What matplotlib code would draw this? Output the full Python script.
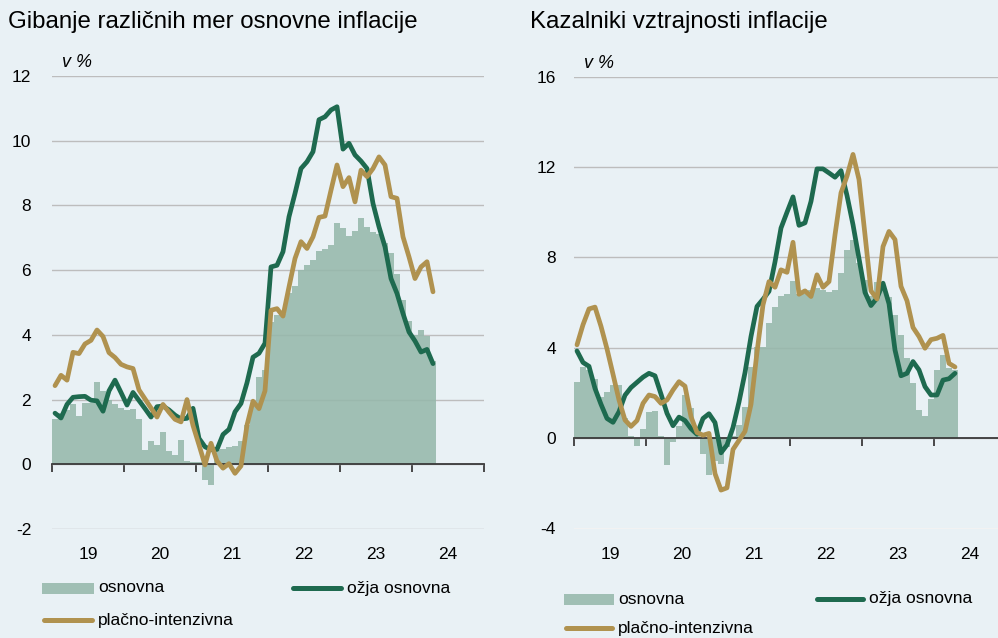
import numpy as np
import matplotlib
matplotlib.use("Agg")
import matplotlib.pyplot as plt
from matplotlib.patches import Rectangle
from matplotlib.lines import Line2D

# mesečni podatki, jan 2019 - apr 2024
years = [19, 20, 21, 22, 23, 24]

osnovna_l = [1.4, 1.6, 1.67, 1.86, 1.5, 1.9, 1.9, 2.55, 2.27, 2.0,
             1.86, 1.75, 1.67, 1.72, 1.41, 0.43, 0.72, 0.59, 1.0, 0.41,
             0.28, 0.74, 0.1, 0.08, 0.07, -0.5, -0.65, 0.44, 0.46, 0.52,
             0.57, 0.72, 1.2, 1.8, 2.7, 2.9, 4.4, 4.6, 4.65, 5.3,
             5.5, 6.0, 6.16, 6.3, 6.59, 6.64, 6.77, 7.47, 7.29, 7.05,
             7.2, 7.6, 7.34, 7.19, 7.13, 6.85, 6.54, 5.87, 5.09, 4.42,
             4.0, 4.16, 3.98, 3.2]
ozja_l = [1.58, 1.43, 1.85, 2.07, 2.09, 2.1, 1.98, 1.96, 1.64, 2.27,
          2.6, 2.22, 1.83, 2.22, 1.97, 1.72, 1.46, 1.78, 1.8, 1.68,
          1.52, 1.4, 1.42, 1.73, 0.8, 0.54, 0.45, 0.46, 0.92, 1.08,
          1.62, 1.88, 2.52, 3.31, 3.43, 3.74, 6.1, 6.15, 6.57, 7.65,
          8.37, 9.14, 9.35, 9.66, 10.65, 10.74, 10.95, 11.05, 9.74, 9.92,
          9.56, 9.37, 9.14, 8.06, 7.34, 6.72, 5.74, 5.28, 4.66, 4.09,
          3.81, 3.47, 3.55, 3.11]
placna_l = [2.43, 2.75, 2.6, 3.46, 3.42, 3.72, 3.83, 4.15, 3.95, 3.45,
            3.3, 3.09, 3.01, 2.96, 2.3, 2.02, 1.74, 1.46, 1.85, 1.61,
            1.39, 1.31, 2.0, 1.2, 0.6, -0.02, 0.65, 0.1, -0.12, 0.02,
            -0.28, -0.05, 1.21, 1.95, 1.72, 2.27, 4.76, 4.81, 4.58, 5.48,
            6.36, 6.88, 6.67, 7.03, 7.63, 7.67, 8.47, 9.25, 8.58, 8.86,
            8.11, 9.09, 8.89, 9.14, 9.5, 9.25, 8.27, 8.22, 7.03, 6.41,
            5.74, 6.1, 6.26, 5.33]

osnovna_r = [2.5, 3.14, 3.0, 2.6, 1.8, 2.06, 2.36, 2.36, 0.9, 0.09,
             -0.36, 0.39, 1.17, 1.21, 0.1, -1.17, -0.17, 0.55, 1.9, 1.32,
             0.5, -0.68, -1.62, -1.0, -1.13, -0.4, 0.1, 0.6, 1.4, 3.16,
             4.05, 4.05, 5.09, 5.8, 6.3, 6.4, 6.95, 6.4, 6.4, 6.55,
             6.65, 6.55, 6.47, 6.54, 7.3, 8.34, 8.79, 7.75, 7.0, 6.3,
             6.9, 6.6, 6.27, 5.46, 4.58, 3.54, 2.43, 1.24, 0.98, 1.74,
             3.02, 3.68, 3.1, 3.0]
ozja_r = [3.86, 3.35, 3.18, 2.2, 1.5, 0.87, 0.7, 1.17, 1.9, 2.24,
          2.47, 2.7, 2.87, 2.76, 1.95, 1.1, 0.55, 0.93, 0.78, 0.42,
          0.17, 0.87, 1.08, 0.69, -0.65, -0.3, 0.47, 1.6, 2.9, 4.5,
          5.83, 6.15, 6.5, 7.8, 9.3, 10.0, 10.68, 9.42, 9.53, 10.48,
          11.92, 11.92, 11.74, 11.55, 11.84, 10.74, 9.45, 7.95, 6.45, 5.87,
          6.2, 6.86, 5.95, 3.9, 2.76, 2.87, 3.39, 3.02, 2.28, 1.91,
          1.91, 2.57, 2.63, 2.87]
placna_r = [4.13, 5.02, 5.72, 5.8, 4.95, 3.95, 2.83, 1.69, 0.8, 0.52,
            0.78, 1.54, 1.91, 1.84, 1.54, 1.69, 2.13, 2.5, 2.3, 0.95,
            0.25, 0.13, 0.21, -1.57, -2.3, -2.2, -0.5, -0.1, 0.3, 1.5,
            3.8, 5.9, 6.93, 6.68, 7.45, 7.34, 8.67, 6.37, 6.52, 6.27,
            7.23, 6.68, 6.93, 9.0, 10.86, 11.6, 12.56, 11.45, 9.0, 6.52,
            6.16, 8.48, 9.15, 8.79, 6.72, 6.08, 4.9, 4.5, 3.98, 4.36,
            4.42, 4.55, 3.31, 3.15]

BG = "#E9F1F5"
BAR = "#96B8AB"
GREEN = "#1E6A4F"
GOLD = "#B0924F"
GRID = "#BDBDBD"
AXIS = "#3A3A3A"

plt.rcParams["font.family"] = ["Liberation Sans", "DejaVu Sans"]
plt.rcParams["axes.unicode_minus"] = False

W, H = 998, 638
TICK_FS = 12.5
LEG_FS = 12.5
months = 2019 + (np.arange(len(osnovna_l)) + 0.5) / 12


def draw_panel(ax, bars, green, gold, ylim, step, ypad):
    ax.set_facecolor(BG)
    ax.bar(months, bars, width=1 / 12, color=BAR, alpha=0.88, linewidth=0, zorder=2)
    ax.plot(months, green, color=GREEN, lw=3.4, solid_capstyle="round", zorder=4)
    ax.plot(months, gold, color=GOLD, lw=3.4, solid_capstyle="round", zorder=4)

    ax.set_xlim(2019, 2025)
    ax.set_ylim(*ylim)
    ax.set_yticks(np.arange(ylim[0], ylim[1] + 1, step))
    ax.yaxis.grid(True, color=GRID, lw=1.0)
    ax.set_axisbelow(True)
    ax.tick_params(axis="y", length=0, pad=ypad, labelsize=TICK_FS)

    for s in ["left", "right", "top"]:
        ax.spines[s].set_visible(False)
    ax.spines["bottom"].set_position(("data", 0))
    ax.spines["bottom"].set_color(AXIS)
    ax.spines["bottom"].set_linewidth(1.3)
    ax.set_xticks(np.arange(2019, 2026))
    ax.tick_params(axis="x", direction="out", length=6, width=1.3,
                   color=AXIS, labelbottom=False)

    sec = ax.secondary_xaxis("bottom")
    sec.set_xticks([2000 + y + 0.5 for y in years], labels=[str(y) for y in years])
    sec.tick_params(length=0, pad=13, labelsize=TICK_FS)
    sec.spines["bottom"].set_visible(False)

    ax.text(0.022, 1.03, "v %", transform=ax.transAxes, fontsize=13,
            style="italic", ha="left", va="center")


def legend(fig, x0, x1, y_rows, text_x):
    # ročno narisana legenda pod grafom
    ya, yb = y_rows
    fig.add_artist(Rectangle((x0 / W, 1 - (ya + 5.5) / H), (x1 - x0) / W, 11 / H,
                             transform=fig.transFigure, color=BAR, alpha=0.88, lw=0))
    fig.text(text_x[0] / W, 1 - ya / H, "osnovna", fontsize=LEG_FS, va="center")
    gx0 = text_x[1] - 4 - (x1 - x0)
    fig.add_artist(Line2D([(gx0 + 2) / W, (text_x[1] - 6) / W], [1 - ya / H] * 2,
                          transform=fig.transFigure, color=GREEN, lw=3.6,
                          solid_capstyle="round"))
    fig.text(text_x[1] / W, 1 - ya / H, "ožja osnovna", fontsize=LEG_FS, va="center")
    fig.add_artist(Line2D([(x0 + 2) / W, (x1 - 2) / W], [1 - yb / H] * 2,
                          transform=fig.transFigure, color=GOLD, lw=3.6,
                          solid_capstyle="round"))
    fig.text(text_x[0] / W, 1 - yb / H, "plačno-intenzivna", fontsize=LEG_FS, va="center")


fig = plt.figure(figsize=(W / 100, H / 100), dpi=100, facecolor=BG)

ax1 = fig.add_axes([52 / W, (H - 529) / H, 432 / W, 453 / H])
draw_panel(ax1, osnovna_l, ozja_l, placna_l, (-2, 12), 2, 15)

ax2 = fig.add_axes([574 / W, (H - 528.5) / H, 432 / W, 451.8 / H])
draw_panel(ax2, osnovna_r, ozja_r, placna_r, (-4, 16), 4, 13)

fig.text(8 / W, 1 - 22 / H, "Gibanje različnih mer osnovne inflacije",
         fontsize=17.3, va="center")
fig.text(530 / W, 1 - 22 / H, "Kazalniki vztrajnosti inflacije",
         fontsize=17.3, va="center")

legend(fig, 42, 94, (588, 620), (98, 347))
legend(fig, 564, 614, (599, 628), (618, 869))

fig.savefig("out.png", dpi=100, facecolor=BG)
